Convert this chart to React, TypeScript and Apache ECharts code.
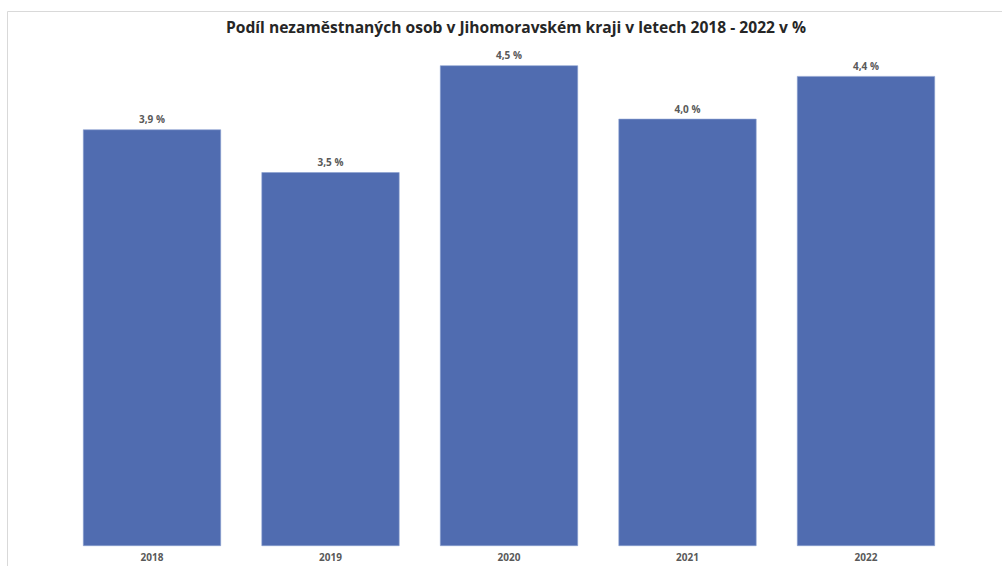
import React, { useEffect, useRef } from "react";
import * as echarts from "echarts";

const categories = ["2018", "2019", "2020", "2021", "2022"];
const values = [3.9, 3.5, 4.5, 4.0, 4.4];
const titleText = "Podíl nezaměstnaných osob v Jihomoravském kraji v letech 2018 - 2022 v %";

export default function App() {
  const ref = useRef<HTMLDivElement>(null);
  useEffect(() => {
    if (!ref.current) return;
    const chart = echarts.init(ref.current, undefined, { renderer: "svg" });
    chart.setOption({
      animation: false,
      backgroundColor: "#ffffff",
      title: {
        text: titleText,
        left: 511,
        textAlign: "center",
        top: 14,
        textStyle: {
          fontFamily: "Open Sans",
          fontWeight: "bold",
          fontSize: 15.6,
          color: "#262626",
        },
      },
      graphic: [
        { type: "line", shape: { x1: 7.5, y1: 11.5, x2: 1002, y2: 11.5 }, style: { stroke: "#d9d9d9", lineWidth: 1 } },
        { type: "line", shape: { x1: 7.5, y1: 11.5, x2: 7.5, y2: 566 }, style: { stroke: "#d9d9d9", lineWidth: 1 } },
      ],
      grid: { left: 62.75, right: 46.75, top: 12, bottom: 20 },
      xAxis: {
        type: "category",
        data: categories,
        axisLine: { show: false },
        axisTick: { show: false },
        axisLabel: {
          fontFamily: "Open Sans",
          fontWeight: "bold",
          fontSize: 10,
          color: "#595959",
          margin: 6,
        },
      },
      yAxis: {
        type: "value",
        min: 0,
        max: 5,
        show: false,
        splitLine: { show: false },
      },
      series: [
        {
          type: "bar",
          data: values,
          barWidth: 138,
          itemStyle: { color: "#506cb0", borderColor: "#8a9fd0", borderWidth: 0.6 },
          label: {
            show: true,
            position: "top",
            distance: 5,
            fontFamily: "Open Sans",
            fontWeight: "bold",
            fontSize: 10,
            color: "#595959",
            formatter: (p: any) => p.value.toFixed(1).replace(".", ",") + " %",
          },
        },
      ],
    });
    return () => chart.dispose();
  }, []);
  return <div ref={ref} style={{ position: "absolute", left: 0, top: 0, width: 1002, height: 566 }} />;
}
